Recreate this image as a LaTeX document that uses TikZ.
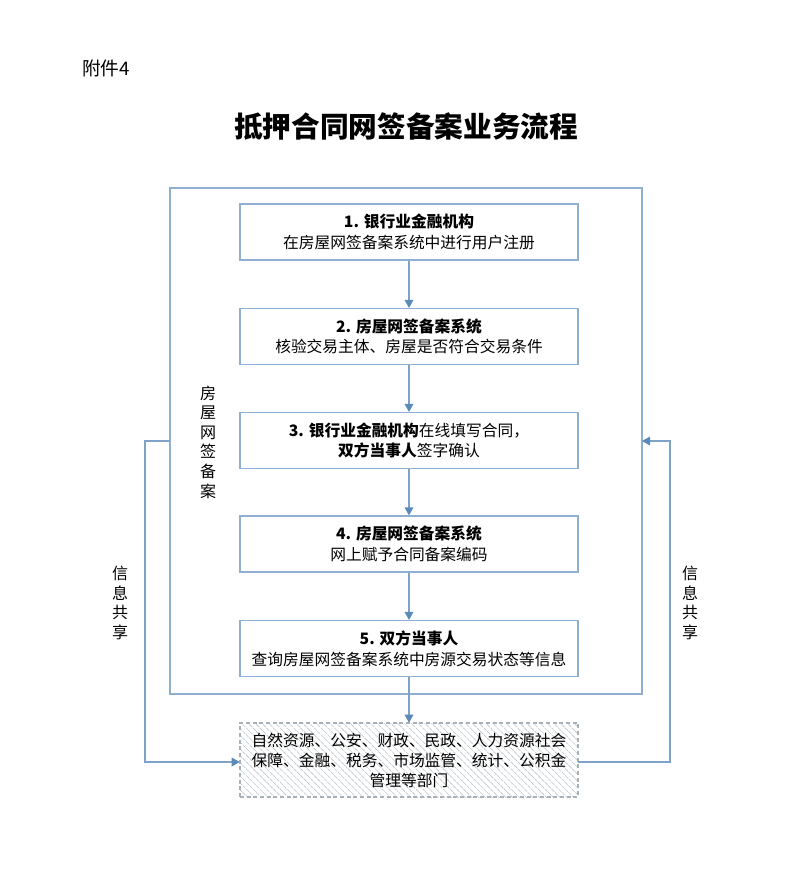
\documentclass[tikz,border=0pt]{standalone}
\usepackage{fontspec}
\setmainfont{Noto Sans CJK SC}
\usetikzlibrary{arrows.meta,patterns.meta}
\definecolor{frameblue}{HTML}{8FAFD0}
\definecolor{linkblue}{HTML}{7FA3C8}
\definecolor{tipblue}{HTML}{5A8AB8}
\definecolor{hatchgray}{HTML}{BFC4CA}
\definecolor{dashgray}{HTML}{A8B0B8}
\tikzset{
  stepbox/.style={draw=frameblue, line width=0.9pt, fill=white, minimum width=253.5pt, minimum height=42pt,
    align=center, inner sep=0pt, font=\fontsize{11.8pt}{15.5pt}\selectfont},
  deptbox/.style={draw=dashgray, dash pattern=on 3pt off 2pt, line width=0.9pt,
    pattern={Lines[angle=-45,distance=3.6pt,line width=0.45pt]}, pattern color=hatchgray,
    minimum width=253.5pt, minimum height=55.5pt, align=center, inner sep=0pt,
    font=\fontsize{11.8pt}{15pt}\selectfont},
  link/.style={draw=linkblue, line width=0.9pt, -{Triangle[length=6pt,width=6.5pt,color=tipblue]}},
  vlabel/.style={align=center, inner sep=0pt, font=\fontsize{12pt}{14.7pt}\selectfont}
}
\begin{document}
\begin{tikzpicture}[x=0.75pt,y=-0.75pt]
\useasboundingbox (0,0) rectangle (793,889);
\fill[white] (0,0) rectangle (793,889);
% header
\node[anchor=west, inner sep=0pt, font=\fontsize{14pt}{16pt}\selectfont] (att) at (82,68) {附件4};
\node[inner sep=0pt, font=\fontsize{21.5pt}{24pt}\selectfont\bfseries] (title) at (406,127) {抵押合同网签备案业务流程};
% frame
\draw[frameblue, line width=0.9pt] (170,188) rectangle (642,694);
\coordinate (fl) at (170,441);
\coordinate (fr) at (642,441);
\coordinate (lc1) at (145,441);
\coordinate (lc2) at (145,762);
\coordinate (rc1) at (670,762);
\coordinate (rc2) at (670,441);
% steps
\node[stepbox] (b1) at (409,232) {\textbf{1. 银行业金融机构}\\在房屋网签备案系统中进行用户注册};
\node[stepbox] (b2) at (409,336.5) {\textbf{2. 房屋网签备案系统}\\核验交易主体、房屋是否符合交易条件};
\node[stepbox] (b3) at (409,440.5) {\textbf{3. 银行业金融机构}在线填写合同，\\\textbf{双方当事人}签字确认};
\node[stepbox] (b4) at (409,544) {\textbf{4. 房屋网签备案系统}\\网上赋予合同备案编码};
\node[stepbox] (b5) at (409,648.5) {\textbf{5. 双方当事人}\\查询房屋网签备案系统中房源交易状态等信息};
\node[deptbox] (d) at (409,760) {自然资源、公安、财政、民政、人力资源社会\\保障、金融、税务、市场监管、统计、公积金\\管理等部门};
% vertical labels
\node[vlabel] (v1) at (208,442) {房\\屋\\网\\签\\备\\案};
\node[vlabel] (v2) at (120,603) {信\\息\\共\\享};
\node[vlabel] (v3) at (690,603) {信\\息\\共\\享};
% connectors
\draw[link] (b1) -- (b2);
\draw[link] (b2) -- (b3);
\draw[link] (b3) -- (b4);
\draw[link] (b4) -- (b5);
\draw[link] (b5) -- (d);
\draw[link] (fl) -- (lc1) -- (lc2) -- (d.west |- lc2);
\draw[link] (d.east |- rc1) -- (rc1) -- (rc2) -- (fr);
\end{tikzpicture}
\end{document}
